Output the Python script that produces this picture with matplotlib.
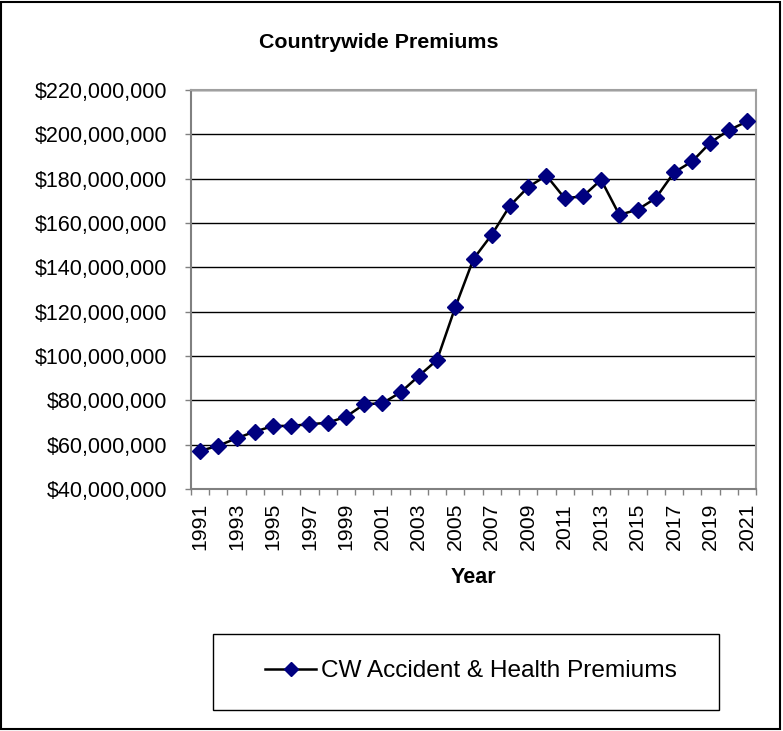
import matplotlib
matplotlib.use("Agg")
import matplotlib.pyplot as plt
from matplotlib.ticker import FuncFormatter, FixedLocator
from matplotlib.patches import Rectangle

plt.rcParams['font.family'] = ['Liberation Sans', 'DejaVu Sans']

years = list(range(1991, 2022))
premiums_m = [57.2, 59.5, 62.9, 65.9, 68.4, 68.5, 69.2, 69.9, 72.6, 78.2,
              78.7, 83.6, 91.0, 98.2, 122.0, 143.8, 154.7, 167.8, 176.2, 181.4,
              171.2, 172.0, 179.5, 163.7, 166.0, 171.2, 182.8, 187.8, 196.3, 201.8,
              205.8]
premiums = [v * 1e6 for v in premiums_m]
series_label = "CW Accident & Health Premiums"
title = "Countrywide Premiums"
xlabel = "Year"

W, H = 783, 731
fig = plt.figure(figsize=(W / 100, H / 100), dpi=100)
fig.patch.set_facecolor('white')

ax = fig.add_axes([191 / W, 1 - 489 / H, (756 - 191) / W, (489 - 90) / H])
ax.plot(years, premiums, color='black', lw=1.8, marker='D', markersize=8.3,
        markerfacecolor='#000080', markeredgecolor='#000080', zorder=3,
        label=series_label)

ax.set_xlim(1990.5, 2021.5)
ax.set_ylim(40e6, 220e6)
ax.set_yticks([40e6 + 20e6 * i for i in range(10)])
ax.yaxis.set_major_formatter(FuncFormatter(lambda v, p: "${:,.0f}".format(v)))
ax.grid(axis='y', color='black', lw=1.0)
ax.set_axisbelow(True)

# x ticks: labels on odd years, tick marks between categories
ax.set_xticks(years[::2])
ax.set_xticklabels([str(y) for y in years[::2]], rotation=90)
ax.xaxis.set_minor_locator(FixedLocator([y - 0.5 for y in years] + [years[-1] + 0.5]))
ax.tick_params(axis='x', which='major', length=0, pad=10, labelsize=15.3)
ax.tick_params(axis='x', which='minor', length=4.3, width=1, color='#808080', direction='out')
ax.tick_params(axis='y', which='major', length=4.3, width=1, color='#808080', labelsize=15.5, pad=13)

for side in ['top', 'right']:
    ax.spines[side].set_color('#a0a0a0')
    ax.spines[side].set_linewidth(1.5)
for side in ['left', 'bottom']:
    ax.spines[side].set_color('#808080')
    ax.spines[side].set_linewidth(1.5)

ax.set_xlabel(xlabel, fontsize=15.5, fontweight='bold', labelpad=12)
fig.text(379 / W, 1 - 42 / H, title, fontsize=15.4, fontweight='bold', ha='center', va='center')

# Legend box
fig.patches.append(Rectangle((213 / W, 1 - 710 / H), (719 - 213) / W, (710 - 634) / H,
                             transform=fig.transFigure, fill=False, edgecolor='black', lw=1.0))
h, l = ax.get_legend_handles_labels()
fig.legend(h, l, loc='center', bbox_to_anchor=(471 / W, 1 - 671 / H), frameon=False,
           fontsize=17.6, handlelength=2.1, handletextpad=0.2, markerscale=0.85)

# Outer chart border
fig.patches.append(Rectangle((1 / W, 2 / H), (W - 4) / W, (H - 4) / H,
                             transform=fig.transFigure, fill=False, edgecolor='black', lw=1.5))

fig.savefig("out.png", dpi=100)
